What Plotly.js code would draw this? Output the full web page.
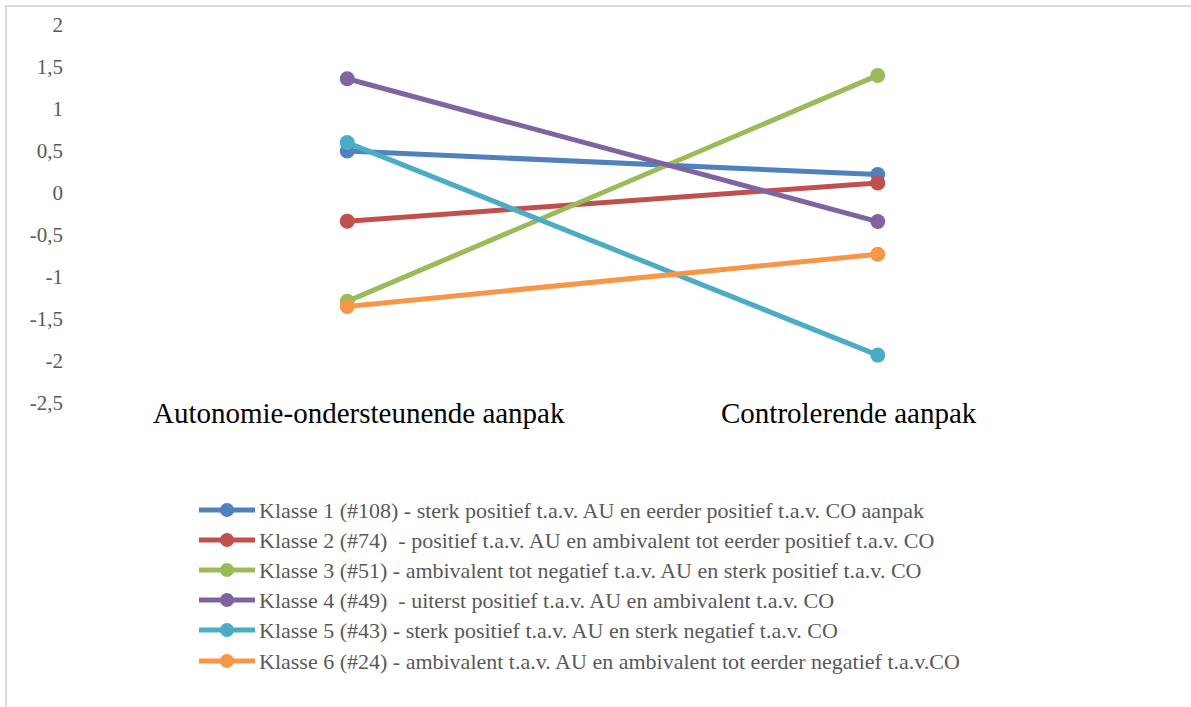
<!DOCTYPE html>
<html>
<head>
<meta charset="utf-8">
<script src="https://cdn.plot.ly/plotly-3.0.1.min.js"></script>
<style>
  body { margin: 0; }
  #chart text { font-family: 'Liberation Serif', 'Times New Roman', serif !important; }
</style>
</head>
<body>
<div id="chart"></div>
<script>
// Categories on the x axis
const categories = ['Autonomie-ondersteunende aanpak', 'Controlerende aanpak'];

// Series names (one per class)
const seriesNames = [
  'Klasse 1 (#108) - sterk positief t.a.v. AU en eerder positief t.a.v. CO aanpak',
  'Klasse 2 (#74)  - positief t.a.v. AU en ambivalent tot eerder positief t.a.v. CO',
  'Klasse 3 (#51) - ambivalent tot negatief t.a.v. AU en sterk positief t.a.v. CO',
  'Klasse 4 (#49)  - uiterst positief t.a.v. AU en ambivalent t.a.v. CO',
  'Klasse 5 (#43) - sterk positief t.a.v. AU en sterk negatief t.a.v. CO',
  'Klasse 6 (#24) - ambivalent t.a.v. AU en ambivalent tot eerder negatief t.a.v.CO'
];

// Mean scores per class: [AU, CO]
const klasse1 = [0.50, 0.22];
const klasse2 = [-0.335, 0.12];
const klasse3 = [-1.29, 1.40];
const klasse4 = [1.36, -0.34];
const klasse5 = [0.60, -1.93];
const klasse6 = [-1.35, -0.73];
const seriesValues = [klasse1, klasse2, klasse3, klasse4, klasse5, klasse6];

// Y axis ticks
const tickVals = [2, 1.5, 1, 0.5, 0, -0.5, -1, -1.5, -2, -2.5];
const tickText = ['2', '1,5', '1', '0,5', '0', '-0,5', '-1', '-1,5', '-2', '-2,5'];

const colors = ['#4F81BD', '#C0504D', '#9BBB59', '#8064A2', '#4BACC6', '#F79646'];

const textFamily = 'Liberation Serif';

const chartW = 1191, chartH = 707;
const margins = { l: 82, r: 48, t: 25, b: 304 };
const plotW = chartW - margins.l - margins.r, plotH = chartH - margins.t - margins.b;
const px2x = px => (px - margins.l) / plotW;
const py2y = py => (chartH - margins.b - py) / plotH;

const traces = seriesValues.map((vals, i) => ({
  type: 'scatter',
  mode: 'lines+markers',
  x: categories,
  y: vals,
  name: seriesNames[i],
  line: { color: colors[i], width: 5 },
  marker: { color: colors[i], size: 15 },
  showlegend: false
}));

const shapes = [];
const annotations = [];

// Outer chart frame (open to the right and bottom edges)
shapes.push({
  type: 'rect', xref: 'paper', yref: 'paper',
  x0: px2x(6), x1: px2x(1210), y0: py2y(6), y1: py2y(730),
  line: { color: '#d9d9d9', width: 2 }, fillcolor: 'rgba(0,0,0,0)'
});

// Legend drawn as line + dot symbols with text, stacked below the plot
const rowY = [510, 540, 570, 600, 630, 661];
seriesNames.forEach((name, i) => {
  const y = py2y(rowY[i]);
  shapes.push({
    type: 'line', xref: 'paper', yref: 'paper',
    x0: px2x(199), x1: px2x(255), y0: y, y1: y,
    line: { color: colors[i], width: 5 }
  });
  shapes.push({
    type: 'circle', xref: 'paper', yref: 'paper',
    x0: px2x(220), x1: px2x(234),
    y0: py2y(rowY[i] + 7), y1: py2y(rowY[i] - 7),
    fillcolor: colors[i], line: { color: colors[i], width: 0 }
  });
  annotations.push({
    xref: 'paper', yref: 'paper', x: px2x(257), y: y,
    xanchor: 'left', yanchor: 'middle', showarrow: false,
    text: name.replace(/  /g, '&nbsp; '),
    font: { family: textFamily, size: 22, color: '#595959' }
  });
});

// Category labels under the plot area
const catShift = [12, -29];
categories.forEach((c, i) => {
  annotations.push({
    xref: 'x', yref: 'paper', x: c, y: py2y(413),
    xshift: catShift[i], xanchor: 'center', yanchor: 'middle',
    showarrow: false, text: c,
    font: { family: textFamily, size: 29, color: '#000000' }
  });
});

const layout = {
  width: chartW, height: chartH,
  margin: margins,
  font: { family: textFamily, size: 19, color: '#595959' },
  paper_bgcolor: '#ffffff',
  plot_bgcolor: '#ffffff',
  showlegend: false,
  xaxis: {
    type: 'category',
    range: [-0.5, 1.5],
    showgrid: false, zeroline: false, showline: false,
    showticklabels: false, ticks: ''
  },
  yaxis: {
    range: [-2.5, 2],
    tickvals: tickVals,
    ticktext: tickText,
    showgrid: false, zeroline: false, showline: false,
    ticks: '',
    ticklabelstandoff: 18,
    tickfont: { family: textFamily, size: 21, color: '#595959' }
  },
  shapes: shapes,
  annotations: annotations
};

Plotly.newPlot('chart', traces, layout, { displayModeBar: false });
</script>
</body>
</html>
